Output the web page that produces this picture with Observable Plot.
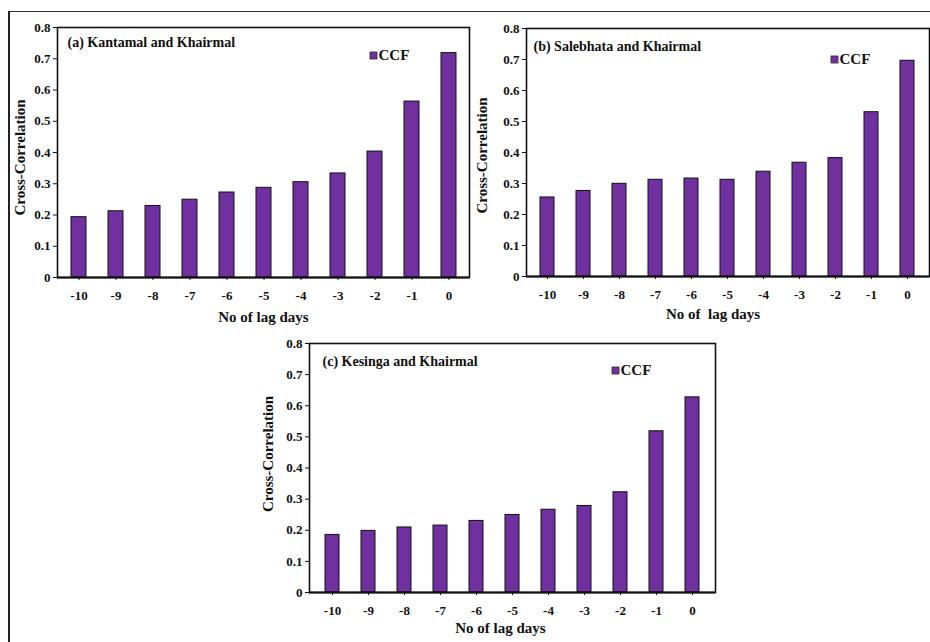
<!DOCTYPE html>
<html>
<head>
<meta charset="utf-8">
<script src="https://cdn.jsdelivr.net/npm/d3@7"></script>
<script src="https://cdn.jsdelivr.net/npm/@observablehq/plot@0.6"></script>
<style>
  html, body { margin: 0; padding: 0; background: #fff; }
  #wrap { position: relative; width: 930px; height: 642px; background: #fff; overflow: hidden; }
  .panel { position: absolute; }
  #outer { position: absolute; left: 8px; top: 11px; right: -2px; bottom: -2px; border-left: 2px solid #222; border-top: 1.5px solid #333; pointer-events: none; z-index: 5; }
</style>
</head>
<body>
<div id="wrap"><div id="outer"></div></div>
<script>
// ---- data ----
const lagDays = ["-10", "-9", "-8", "-7", "-6", "-5", "-4", "-3", "-2", "-1", "0"];
const ccfKantamal = [0.193, 0.212, 0.229, 0.249, 0.272, 0.287, 0.305, 0.333, 0.403, 0.563, 0.718];
const ccfSalebhata = [0.255, 0.276, 0.299, 0.312, 0.316, 0.312, 0.338, 0.367, 0.382, 0.530, 0.696];
const ccfKesinga = [0.185, 0.198, 0.209, 0.215, 0.230, 0.249, 0.266, 0.278, 0.322, 0.518, 0.627];
const yTicks = [0, 0.1, 0.2, 0.3, 0.4, 0.5, 0.6, 0.7, 0.8];
const yTickLabels = ["0", "0.1", "0.2", "0.3", "0.4", "0.5", "0.6", "0.7", "0.8"];
const panelTitles = ["(a) Kantamal and Khairmal", "(b) Salebhata and Khairmal", "(c) Kesinga and Khairmal"];
const legendLabel = "CCF";
const yLabel = "Cross-Correlation";
const xLabels = ["No of lag days", "No of  lag days", "No of lag days"];

const barColor = "#7030A0";
const font = "'Liberation Serif', 'Times New Roman', serif";

const panels = [
  {values: ccfKantamal, title: panelTitles[0], xLabel: xLabels[0],
   left: 0, top: 0, width: 472, height: 330, mL: 57, mR: 3, mT: 27, mB: 53,
   tdx: 10, tdy: 15, ldx: -96, ldy: 28, ydx: -37, ydy: 5, xdx: 0, xdy: 40},
  {values: ccfSalebhata, title: panelTitles[1], xLabel: xLabels[1],
   left: 472, top: 0, width: 458, height: 330, mL: 54, mR: 1, mT: 28, mB: 54,
   tdx: 7, tdy: 18, ldx: -95, ldy: 31, ydx: -44, ydy: 3, xdx: -15, xdy: 38},
  {values: ccfKesinga, title: panelTitles[2], xLabel: xLabels[2],
   left: 250, top: 330, width: 480, height: 312, mL: 59, mR: 15, mT: 13, mB: 50,
   tdx: 13, tdy: 18, ldx: -100, ldy: 27, ydx: -41, ydy: -14, xdx: -12, xdy: 36}
];

const wrap = document.getElementById("wrap");
const yLabelMap = new Map(yTicks.map((t, i) => [t, yTickLabels[i]]));

for (const p of panels) {
  const data = lagDays.map((d, i) => ({lag: d, ccf: p.values[i]}));
  const chart = Plot.plot({
    width: p.width,
    height: p.height,
    marginLeft: p.mL,
    marginRight: p.mR,
    marginTop: p.mT,
    marginBottom: p.mB,
    style: {background: "transparent", fontFamily: font, fontSize: "13px", fontWeight: "bold", color: "#111", overflow: "visible"},
    x: {type: "band", domain: lagDays, paddingInner: 0.6, paddingOuter: 0.36, label: null, tickSize: 3, tickPadding: 10},
    y: {domain: [0, 0.8], ticks: yTicks, tickFormat: d => yLabelMap.get(d), label: null, tickSize: 4, tickPadding: 3},
    marks: [
      Plot.barY(data, {x: "lag", y: "ccf", fill: barColor, stroke: "#111", strokeWidth: 1}),
      Plot.frame({stroke: "#111", strokeWidth: 1.6}),
      Plot.ruleY([0], {stroke: "#111", strokeWidth: 2}),
      Plot.text([p.title], {text: d => d, frameAnchor: "top-left", dx: p.tdx, dy: p.tdy, textAnchor: "start", lineAnchor: "middle", fontSize: 14, fontWeight: "bold", fill: "#111"}),
      Plot.dot([legendLabel], {frameAnchor: "top-right", dx: p.ldx, dy: p.ldy, symbol: "square", r: 4, fill: barColor, stroke: "#333", strokeWidth: 0.8}),
      Plot.text([legendLabel], {text: d => d, frameAnchor: "top-right", dx: p.ldx + 5, dy: p.ldy, textAnchor: "start", lineAnchor: "middle", fontSize: 15, fontWeight: "bold", fill: "#111"}),
      Plot.text([yLabel], {text: d => d, frameAnchor: "left", dx: p.ydx, dy: p.ydy, rotate: -90, textAnchor: "middle", lineAnchor: "middle", fontSize: 15, fontWeight: "bold", fill: "#111"}),
      Plot.text([p.xLabel], {text: d => d, frameAnchor: "bottom", dx: p.xdx, dy: p.xdy, textAnchor: "middle", lineAnchor: "middle", fontSize: 15, fontWeight: "bold", fill: "#111"})
    ]
  });
  chart.classList.add("panel");
  chart.style.left = p.left + "px";
  chart.style.top = p.top + "px";
  wrap.appendChild(chart);
}
</script>
</body>
</html>
